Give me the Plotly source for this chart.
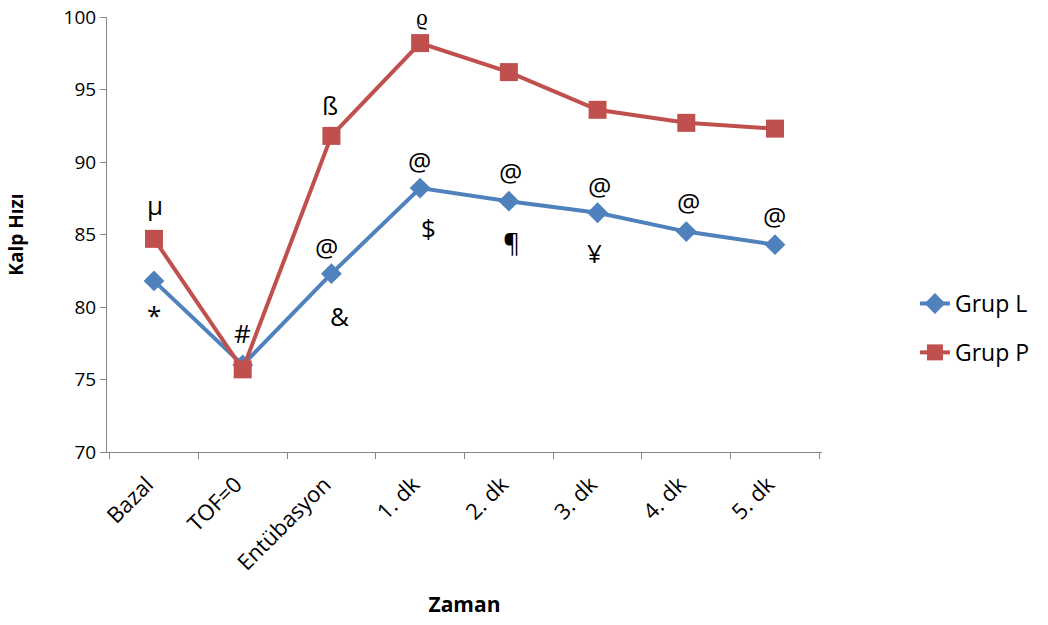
import plotly.graph_objects as go

categories = ["Bazal", "TOF=0", "Entübasyon", "1. dk", "2. dk", "3. dk", "4. dk", "5. dk"]
grup_l = [81.8, 76.0, 82.3, 88.2, 87.3, 86.5, 85.2, 84.3]
grup_p = [84.7, 75.7, 91.8, 98.2, 96.2, 93.6, 92.7, 92.3]

# annotation symbols: (category index, series, text, x shift px, y shift px, font size)
marks = [
    (0, "P", "μ", 1, 34, 26),
    (0, "L", "*", 0, -34, 26),
    (1, "L", "#", 0, 32, 26),
    (2, "L", "@", -5, 27, 26),
    (2, "L", "&", 8, -42, 26),
    (2, "P", "ß", -1, 31, 26),
    (3, "P", "ϱ", 2, 27, 23),
    (3, "L", "@", -1, 27, 26),
    (3, "L", "$", 8, -40, 26),
    (4, "L", "@", 2, 29, 26),
    (4, "L", "¶", 3, -41, 26),
    (5, "L", "@", 2, 27, 26),
    (5, "L", "¥", -3, -40, 26),
    (6, "L", "@", 2, 30, 26),
    (7, "L", "@", -1, 29, 26),
]

BLUE = "#4F81BD"
RED = "#C0504D"
FONT = "Open Sans"

fig = go.Figure()
fig.add_trace(go.Scatter(x=categories, y=grup_l, name="Grup L", mode="lines+markers",
                         legendgroup="L",
                         line=dict(color=BLUE, width=4),
                         marker=dict(symbol="diamond", size=16, color=BLUE)))
fig.add_trace(go.Scatter(x=categories, y=grup_p, name="Grup P", mode="lines+markers",
                         legendgroup="P",
                         line=dict(color=RED, width=4),
                         marker=dict(symbol="square", size=18, color=RED)))

for idx, ser, txt, dx, dy, fs in marks:
    yv = grup_l[idx] if ser == "L" else grup_p[idx]
    fig.add_annotation(x=categories[idx], y=yv, text=txt, showarrow=False,
                       xshift=dx, yshift=dy,
                       font=dict(family=FONT, size=fs, color="black"))

fig.update_layout(
    width=1048, height=625,
    margin=dict(l=107, r=226, t=17, b=173),
    paper_bgcolor="white", plot_bgcolor="white",
    font=dict(family=FONT, color="black"),
    showlegend=True,
    legend=dict(x=1.13, y=0.285, xanchor="left", yanchor="middle",
                font=dict(family=FONT, size=23), tracegroupgap=16,
                itemsizing="trace", bgcolor="rgba(0,0,0,0)"),
    xaxis=dict(
        type="category", showline=True, linecolor="#868686", linewidth=1,
        ticks="outside", ticklen=6, tickcolor="#868686", tickson="boundaries",
        tickangle=-45, tickfont=dict(family=FONT, size=22), ticklabelstandoff=10,
        ticklabelshift=-7,
        showgrid=False, zeroline=False, automargin="bottom",
        title=dict(text="<b>Zaman</b>", font=dict(family=FONT, size=21), standoff=22),
    ),
    yaxis=dict(
        range=[70, 100], dtick=5, showline=True, linecolor="#868686", linewidth=1,
        ticks="outside", ticklen=6, tickcolor="#868686",
        tickfont=dict(family=FONT, size=19),
        showgrid=False, zeroline=False, automargin="left",
        title=dict(text="<b>Kalp Hızı</b>", font=dict(family=FONT, size=19), standoff=34),
    ),
)

fig.write_html("out.html")
